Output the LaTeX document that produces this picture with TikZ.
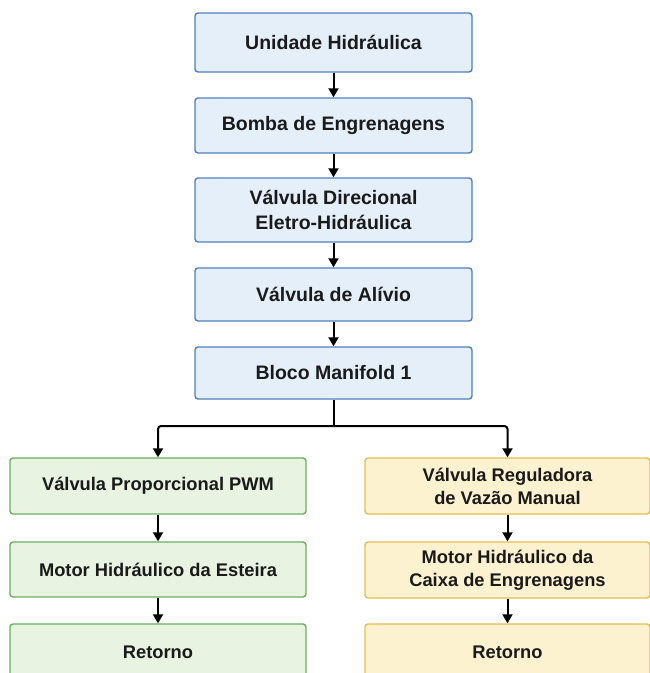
\documentclass[tikz,border=0pt]{standalone}
\usepackage{fontspec}
\setmainfont{Liberation Sans}
\usetikzlibrary{arrows.meta}
\definecolor{bfill}{HTML}{E5EFFA}
\definecolor{bdraw}{HTML}{4F7FBF}
\definecolor{gfill}{HTML}{E8F3E2}
\definecolor{gdraw}{HTML}{6AAE5E}
\definecolor{yfill}{HTML}{FDF2D0}
\definecolor{ydraw}{HTML}{E5BE50}
\definecolor{txt}{HTML}{1A1A1A}
\tikzset{
  box/.style={draw, rounded corners=3pt, line width=1.4pt, align=center, inner sep=2pt,
    text=txt},
  bluebox/.style={box, fill=bfill, draw=bdraw, minimum width=277pt,
    font=\bfseries\fontsize{19.5}{25}\selectfont},
  greenbox/.style={box, fill=gfill, draw=gdraw, minimum width=296pt,
    font=\bfseries\fontsize{18.3}{23}\selectfont},
  yellowbox/.style={box, fill=yfill, draw=ydraw, minimum width=285pt,
    font=\bfseries\fontsize{18.3}{23}\selectfont},
  arr/.style={line width=2pt, draw=black, -{Triangle[length=9pt,width=10pt]}},
  plain/.style={line width=2pt, draw=black, rounded corners=3pt}
}
\begin{document}
\begin{tikzpicture}[x=1pt,y=-1pt]
\useasboundingbox (0,0) rectangle (649,673);
\fill[white] (0,0) rectangle (649,673);
\node[bluebox, minimum height=59pt] (n1) at (333.5,42.5) {Unidade Hidráulica};
\node[bluebox, minimum height=55pt] (n2) at (333.5,125.5) {Bomba de Engrenagens};
\node[bluebox, minimum height=64pt] (n3) at (333.5,210) {Válvula Direcional\\Eletro-Hidráulica};
\node[bluebox, minimum height=53pt] (n4) at (333.5,294.5) {Válvula de Alívio};
\node[bluebox, minimum height=52pt] (n5) at (333.5,373) {Bloco Manifold 1};
\node[greenbox, minimum height=56pt] (g1) at (158,486) {Válvula Proporcional PWM};
\node[greenbox, minimum height=55pt] (g2) at (158,569.5) {Motor Hidráulico da Esteira};
\node[greenbox, minimum height=56pt] (g3) at (158,652) {Retorno};
\node[yellowbox, minimum height=56pt] (y1) at (507.5,486) {Válvula Reguladora\\de Vazão Manual};
\node[yellowbox, minimum height=56pt] (y2) at (507.5,570) {Motor Hidráulico da\\Caixa de Engrenagens};
\node[yellowbox, minimum height=56pt] (y3) at (507.5,652) {Retorno};
\draw[arr] (n1) -- (n2);
\draw[arr] (n2) -- (n3);
\draw[arr] (n3) -- (n4);
\draw[arr] (n4) -- (n5);
\coordinate (j) at (333.5,426);
\draw[plain] (n5.south) -- (j);
\draw[arr, rounded corners=3pt] (j) -| (g1.north);
\draw[arr, rounded corners=3pt] (j) -| (y1.north);
\draw[arr] (g1) -- (g2);
\draw[arr] (g2) -- (g3);
\draw[arr] (y1) -- (y2);
\draw[arr] (y2) -- (y3);
\end{tikzpicture}
\end{document}
